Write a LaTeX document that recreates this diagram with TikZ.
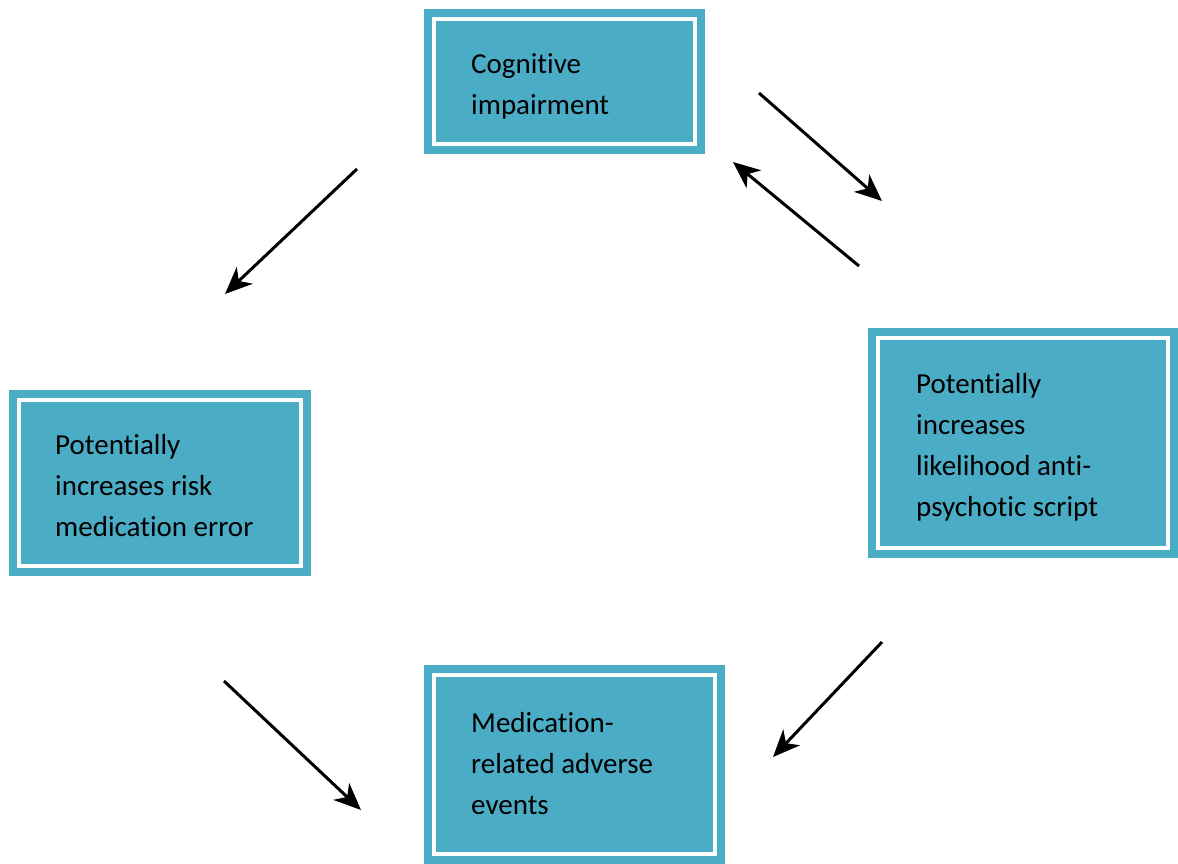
\documentclass[tikz,border=0pt]{standalone}
\usepackage{fontspec}
\setmainfont{Carlito}[Ligatures=NoCommon]
\usetikzlibrary{arrows.meta}
\definecolor{accent}{RGB}{75,172,198}
\tikzset{
  box/.style={fill=accent, draw=none, inner sep=0pt, outer sep=0pt,
    path picture={\draw[white,line width=4pt]
      ([xshift=10pt,yshift=-10pt]path picture bounding box.north west) rectangle
      ([xshift=-10pt,yshift=10pt]path picture bounding box.south east);}},
  lbl/.style={anchor=west, align=left, inner sep=0pt, font=\fontsize{29}{41}\selectfont},
  arr/.style={line width=3pt, -{Stealth[length=27pt,width=23pt,inset=8pt]}}
}
\begin{document}
\begin{tikzpicture}[x=1pt,y=-1pt]
\useasboundingbox (0,0) rectangle (1178,864);
% boxes
\node[box, minimum width=281pt, minimum height=145pt] (cog) at (564.5,81.5) {};
\node[box, minimum width=310pt, minimum height=230pt] (anti) at (1023,443) {};
\node[box, minimum width=302pt, minimum height=186pt] (risk) at (160,483) {};
\node[box, minimum width=301pt, minimum height=199pt] (adv) at (574.5,764.5) {};
% labels
\node[lbl] (cogt) at ([xshift=47pt,yshift=-5pt]cog.west) {Cognitive\\impairment};
\node[lbl] (antit) at ([xshift=48pt,yshift=-4pt]anti.west) {Potentially\\increases\\likelihood anti-\\psychotic script};
\node[lbl] (riskt) at ([xshift=46pt,yshift=-3pt]risk.west) {Potentially\\increases risk\\medication error};
\node[lbl] (advt) at ([xshift=47pt,yshift=1pt]adv.west) {Medication-\\related adverse\\events};
% arrow endpoints
\coordinate (a1s) at (357,169); \coordinate (a1e) at (225,294);
\coordinate (a2s) at (759,93);  \coordinate (a2e) at (882,201);
\coordinate (a3s) at (859,266); \coordinate (a3e) at (733,162);
\coordinate (a4s) at (882,642); \coordinate (a4e) at (773,757);
\coordinate (a5s) at (224,681); \coordinate (a5e) at (361,810);
\draw[arr] (a1s) -- (a1e);
\draw[arr] (a2s) -- (a2e);
\draw[arr] (a3s) -- (a3e);
\draw[arr] (a4s) -- (a4e);
\draw[arr] (a5s) -- (a5e);
\end{tikzpicture}
\end{document}
